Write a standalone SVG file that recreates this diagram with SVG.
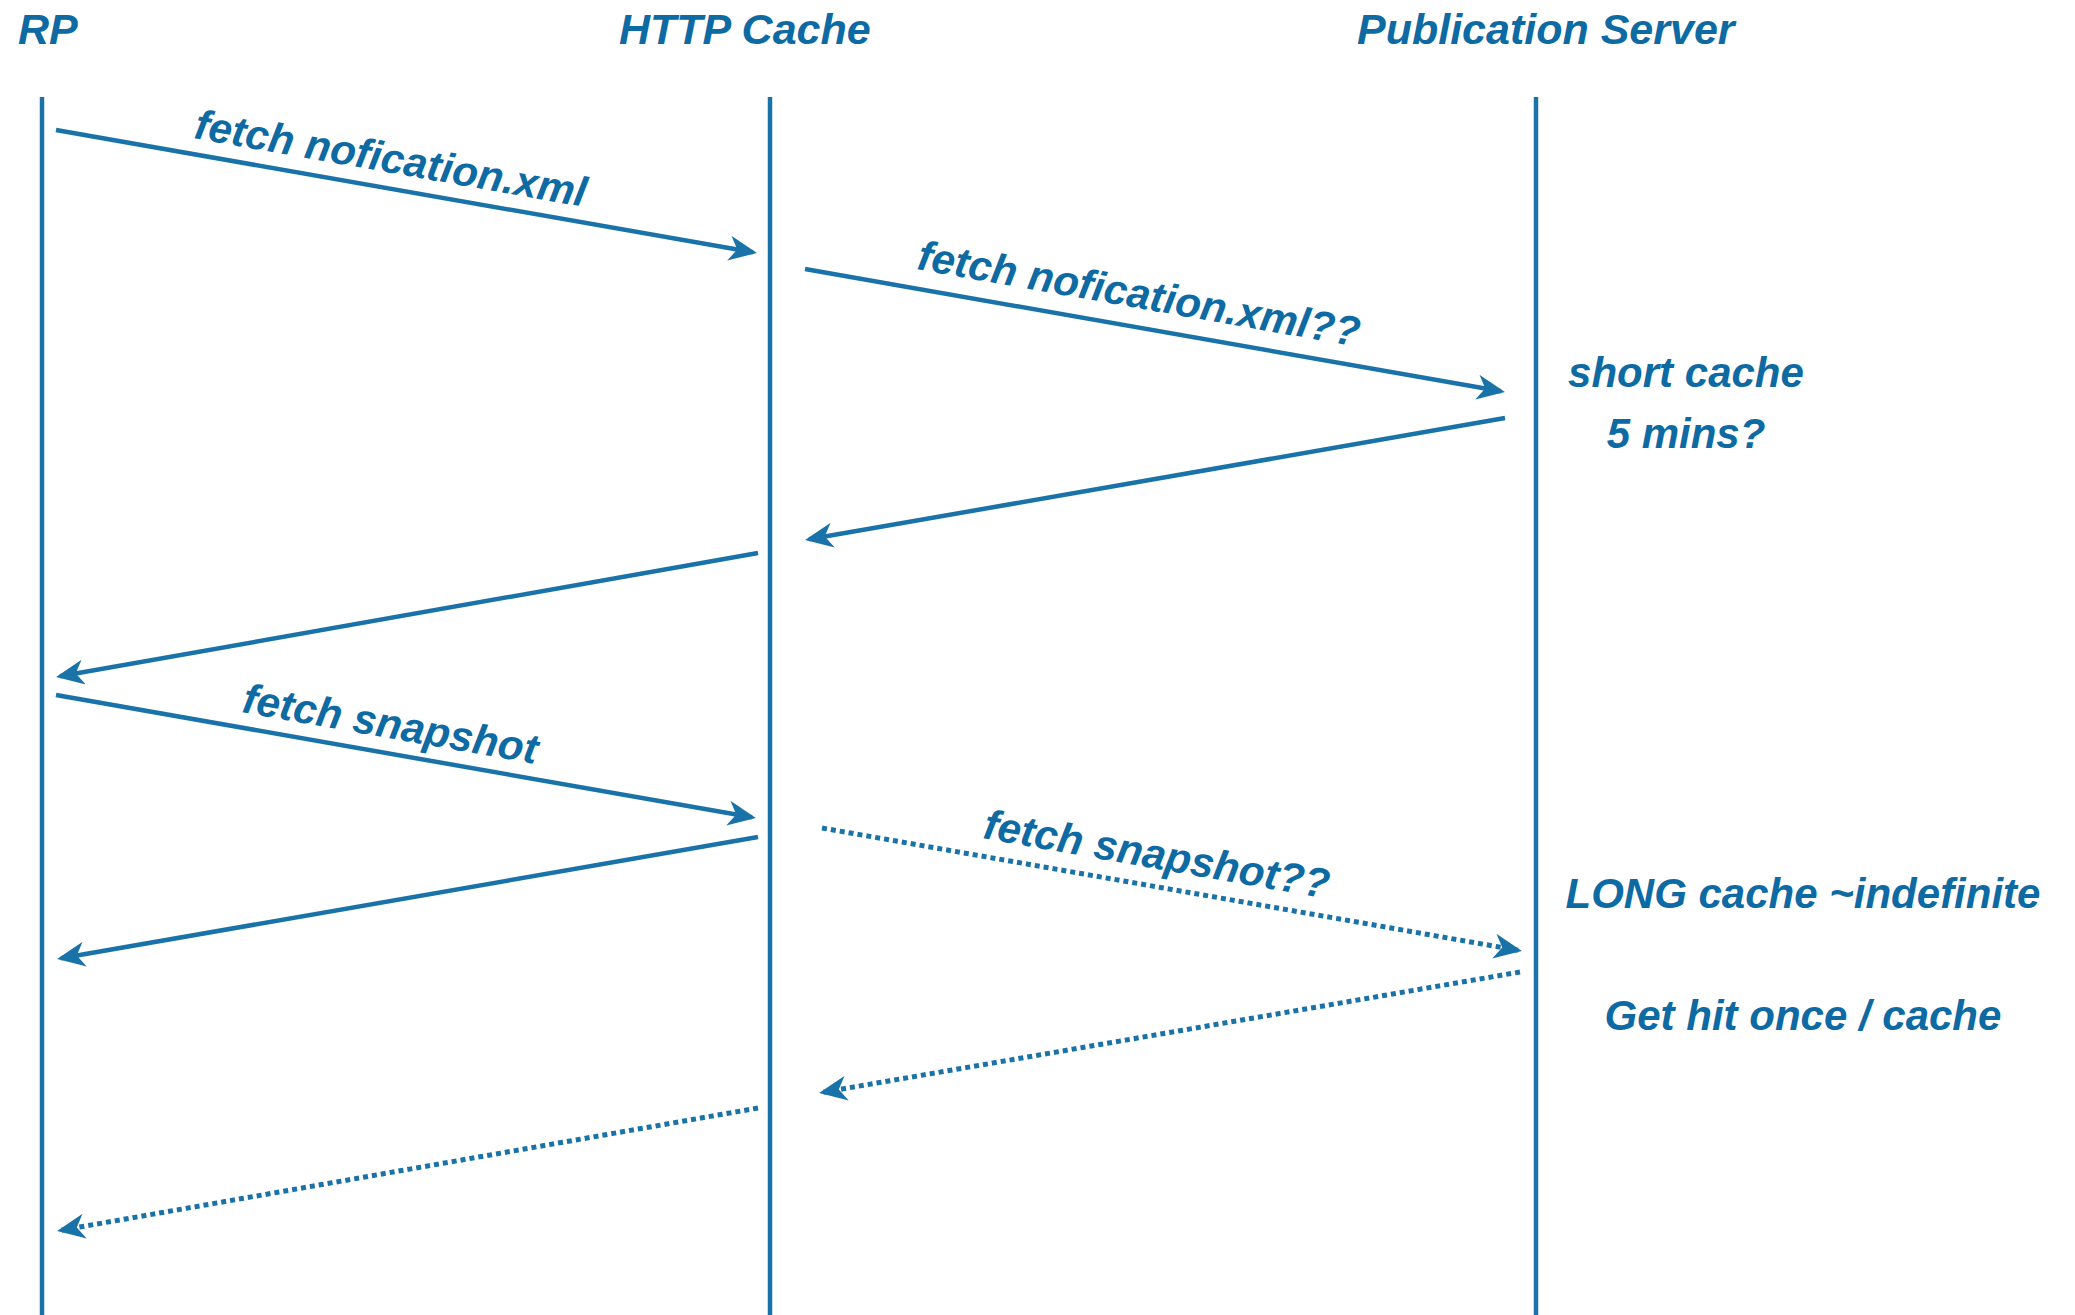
<svg xmlns="http://www.w3.org/2000/svg" width="2075" height="1315" viewBox="0 0 2075 1315">
<style>
.lbl{font-family:"Liberation Sans",Arial,Helvetica,sans-serif;font-weight:bold;font-style:italic;font-size:42px;fill:#0d6aa3}
.hdr{font-size:43px}
.life{stroke:#1a73a8;stroke-width:4.5;fill:none}
.msg{stroke:#1a73a8;stroke-width:4.5;fill:none;marker-end:url(#ah)}
.dot{stroke-dasharray:5 4;stroke-width:5}
</style>
<defs>
<marker id="ah" markerUnits="userSpaceOnUse" markerWidth="28" markerHeight="25" viewBox="0 0 28 25" refX="24" refY="12.5" orient="auto">
<path d="M0,0 L28,12.5 L0,25 L8,12.5 Z" fill="#1a73a8"/>
</marker>
</defs>
<rect width="2075" height="1315" fill="#ffffff"/>
<g id="rp">
<text class="lbl hdr" x="18" y="44">RP</text>
<line class="life" x1="42" y1="97" x2="42" y2="1315"/>
</g>
<g id="http-cache">
<text class="lbl hdr" x="619" y="44">HTTP Cache</text>
<line class="life" x1="770" y1="97" x2="770" y2="1315"/>
</g>
<g id="publication-server">
<text class="lbl hdr" x="1357" y="44">Publication Server</text>
<line class="life" x1="1536" y1="97" x2="1536" y2="1315"/>
</g>
<g id="note-short">
<text class="lbl" x="1686" y="387" text-anchor="middle">short cache</text>
<text class="lbl" x="1686" y="448" text-anchor="middle">5 mins?</text>
</g>
<g id="note-long">
<text class="lbl" x="1803" y="908" text-anchor="middle">LONG cache ~indefinite</text>
<text class="lbl" x="1803" y="1030" text-anchor="middle">Get hit once / cache</text>
</g>
<g id="connectors">
<line class="msg" x1="56" y1="130" x2="753" y2="252.3"/>
<line class="msg" x1="805" y1="269" x2="1501" y2="391.3"/>
<line class="msg" x1="1505" y1="418" x2="809" y2="539.3"/>
<line class="msg" x1="758" y1="553" x2="60" y2="676.3"/>
<line class="msg" x1="56" y1="695" x2="752" y2="817.3"/>
<line class="msg" x1="758" y1="837" x2="61" y2="958.3"/>
<line class="msg dot" x1="822" y1="828" x2="1518" y2="950.3"/>
<line class="msg dot" x1="1520" y1="972" x2="823" y2="1092.3"/>
<line class="msg dot" x1="758" y1="1108" x2="61" y2="1230.3"/>
<text class="lbl" transform="translate(193,138) rotate(10)">fetch nofication.xml</text>
<text class="lbl" transform="translate(916,269) rotate(10)">fetch nofication.xml??</text>
<text class="lbl" transform="translate(241,712) rotate(10)">fetch snapshot</text>
<text class="lbl" transform="translate(982,838) rotate(10)">fetch snapshot??</text>
</g>
</svg>
